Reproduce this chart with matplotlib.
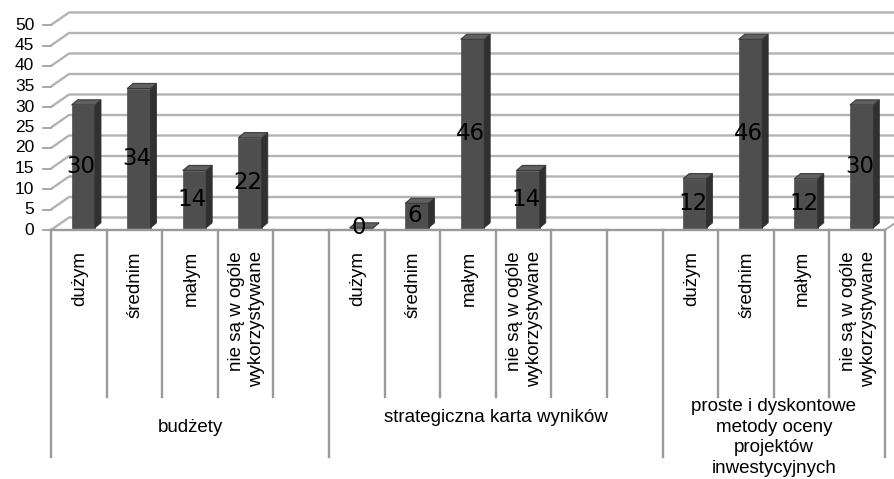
# plot.py
# Excel-style 3D column chart (pseudo 3D drawn with polygons on a flat axes)
# x data unit = one category slot, y data unit = one value unit

import numpy as np
import matplotlib.pyplot as plt
from matplotlib.patches import Polygon

# -----------------------
# DATA
# -----------------------
groups = ["budżety",
          "strategiczna karta wyników",
          "proste i dyskontowe\nmetody oceny\nprojektów\ninwestycyjnych"]
levels = ["dużym", "średnim", "małym", "nie są w ogóle\nwykorzystywane"]
group_slots = [5, 6, 4]          # Excel left empty categories after the first two groups
budzety = [30, 34, 14, 22]
karta   = [0, 6, 46, 14]
metody  = [12, 46, 12, 30]
yticks  = list(range(0, 51, 5))

# -----------------------
# Geometry (data units)
# -----------------------
DX, DY   = 0.324, 3.05     # depth of the back wall
BAR_OFF  = 0.37            # front face left edge inside a slot
BAR_W    = 0.42
SIDE_DX  = 0.11
SIDE_DY  = 1.25
BASE     = 0.5
n_slots  = sum(group_slots)

c_grid  = "#b3b3b3"
c_axis  = "#9a9a9a"
c_front = "#4e4e4e"
c_side  = "#303030"
c_top   = "#606060"

fig = plt.figure(figsize=(8.95, 4.79), dpi=100)
ax = fig.add_axes([0, 0, 1, 1])
ax.set_xlim(-51/55.6, (895-51)/55.6)
ax.set_ylim((230-479)/4.1, 230/4.1)
ax.axis("off")

xr = ax.get_xlim()[1]
py = lambda p: (230 - p) / 4.1   # pixel row -> value units (for label placement)

# back wall gridlines + diagonals + tick marks
for v in yticks:
    ax.plot([0, DX, xr], [v, v + DY, v + DY], color=c_grid, lw=1.7, zorder=1,
            solid_capstyle="butt")
    ax.plot([-0.14, 0], [v, v], color=c_axis, lw=1.2, zorder=1)
    ax.text(-0.3, v, str(v), ha="right", va="center", fontsize=12.5,
            family="Liberation Sans")

# floor front edge
ax.plot([0, n_slots], [0, 0], color=c_axis, lw=1.7, zorder=1)
ax.plot([n_slots, n_slots + DX], [0, DY], color=c_axis, lw=1.2, zorder=1)

# -----------------------
# Bars
# -----------------------
values = [budzety, karta, metody]
start = 0
for g, (vals, ns) in enumerate(zip(values, group_slots)):
    for k, v in enumerate(vals):
        x0 = start + k + BAR_OFF
        x1 = x0 + BAR_W
        b, t = BASE, BASE + v
        front = Polygon([(x0, b), (x1, b), (x1, t), (x0, t)], closed=True,
                        fc=c_front, ec=c_front, lw=0.5, zorder=3)
        side = Polygon([(x1, b), (x1 + SIDE_DX, b + SIDE_DY),
                        (x1 + SIDE_DX, t + SIDE_DY), (x1, t)], closed=True,
                       fc=c_side, ec=c_side, lw=0.5, zorder=3)
        top = Polygon([(x0, t), (x1, t), (x1 + SIDE_DX, t + SIDE_DY),
                       (x0 + SIDE_DX, t + SIDE_DY)], closed=True,
                      fc=c_top, ec="#3a3a3a", lw=0.8, zorder=3)
        ax.add_patch(front); ax.add_patch(side); ax.add_patch(top)
        ax.text((x0 + x1) / 2 - 0.04, b + v / 2, str(v), ha="center", va="center",
                fontsize=16.5, family="DejaVu Sans", color="black", zorder=5)
    start += ns

# -----------------------
# Category axis (two levels)
# -----------------------
short_end = py(397)
long_end  = py(457)
group_y = [py(427), py(418), py(398)]
start = 0
for g, ns in enumerate(group_slots):
    ax.plot([start, start], [0, long_end], color=c_axis, lw=1.7, zorder=1)
    for k in range(ns):
        if k > 0:
            ax.plot([start + k, start + k], [0, short_end], color=c_axis, lw=1.7, zorder=1)
        if k < len(levels):
            ax.text(start + k + 0.52, py(251), levels[k], rotation=90,
                    ha="center", va="top", multialignment="right",
                    fontsize=13.5, family="Liberation Sans", linespacing=1.2)
    va = "top" if "\n" in groups[g] else "center"
    ax.text(start + ns / 2, group_y[g], groups[g], ha="center", va=va,
            fontsize=13.5, family="Liberation Sans", linespacing=1.28)
    start += ns
ax.plot([start, start], [0, long_end], color=c_axis, lw=1.7, zorder=1)

fig.savefig("out.png", dpi=100)
